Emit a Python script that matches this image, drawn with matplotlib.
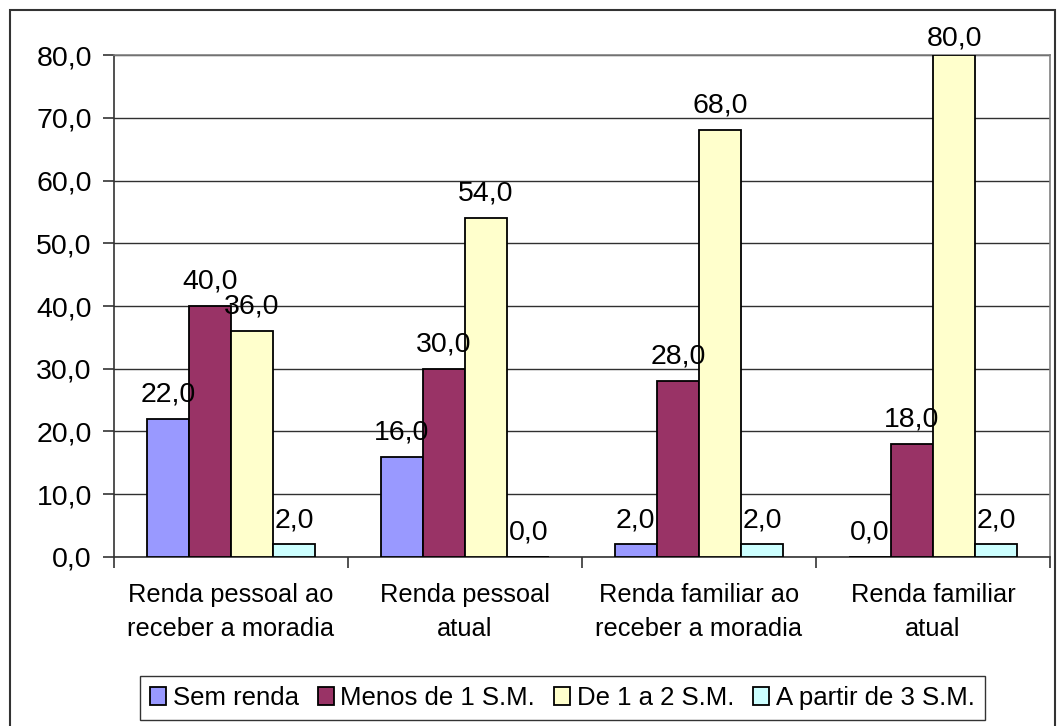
import matplotlib.pyplot as plt
import numpy as np
from matplotlib.patches import Rectangle

plt.rcParams['font.family'] = ['Liberation Sans', 'DejaVu Sans']

categories = ["Renda pessoal ao\nreceber a moradia", "Renda pessoal\natual",
              "Renda familiar ao\nreceber a moradia", "Renda familiar\natual"]
series_names = ["Sem renda", "Menos de 1 S.M.", "De 1 a 2 S.M.", "A partir de 3 S.M."]
sem_renda = [22.0, 16.0, 2.0, 0.0]
menos_1 = [40.0, 30.0, 28.0, 18.0]
de_1_a_2 = [36.0, 54.0, 68.0, 80.0]
a_partir_3 = [2.0, 0.0, 2.0, 2.0]
colors = ["#9999FF", "#993366", "#FFFFCC", "#CCFFFF"]

fig = plt.figure(figsize=(10.57, 7.26), dpi=100)
ax = fig.add_axes([0.1079, 0.2328, 0.8855, 0.6914])

# outer chart border
fig.patches.append(Rectangle((10 / 1057, -0.05), 1045 / 1057, 0.05 + 1 - 10 / 726,
                             transform=fig.transFigure, fill=False,
                             edgecolor="#333333", linewidth=1.5))

x = np.arange(len(categories)) + 0.5
w = 0.18
all_series = [sem_renda, menos_1, de_1_a_2, a_partir_3]
for i, (vals, name, col) in enumerate(zip(all_series, series_names, colors)):
    pos = x + (i - 1.5) * w
    ax.bar(pos, vals, w, color=col, edgecolor="black", linewidth=1.3, label=name, zorder=3)
    for px, v in zip(pos, vals):
        off = 7 if v >= 80 else 12.5
        ax.annotate(f"{v:.1f}".replace(".", ","), (px, v), xytext=(0, off),
                    textcoords="offset points", ha="center", va="baseline",
                    fontsize=20.5, zorder=4, annotation_clip=False)

ax.set_xlim(0, 4)
ax.set_ylim(0, 80)
ax.set_yticks(np.arange(0, 81, 10))
ax.set_yticklabels([f"{t:.1f}".replace(".", ",") for t in np.arange(0, 81, 10)], fontsize=20.5)
ax.yaxis.grid(True, color="#303030", linewidth=1.0, zorder=0)
ax.set_xticks([0, 1, 2, 3, 4])
ax.set_xticklabels([])
ax.set_xticks(x, minor=True)
ax.set_xticklabels(categories, minor=True, fontsize=18.3, linespacing=1.5)
ax.tick_params(axis="x", which="minor", length=0, pad=19)
ax.tick_params(axis="x", which="major", length=8, width=1.2, color="#333333")
ax.tick_params(axis="y", length=8, width=1.2, color="#333333", pad=8)

for s in ["top", "right"]:
    ax.spines[s].set_color("#808080")
    ax.spines[s].set_linewidth(1.2)
for s in ["left", "bottom"]:
    ax.spines[s].set_color("#333333")
    ax.spines[s].set_linewidth(1.2)

leg = ax.legend(loc="center", bbox_to_anchor=(0.532, 0.0386), bbox_transform=fig.transFigure,
                ncol=4, fontsize=18.5, frameon=True, fancybox=False, edgecolor="black",
                handlelength=0.62, handleheight=0.66, handletextpad=0.25, columnspacing=0.75,
                borderpad=0.4, borderaxespad=0)
leg.get_frame().set_linewidth(1.0)

fig.savefig("out.png", dpi=100)
